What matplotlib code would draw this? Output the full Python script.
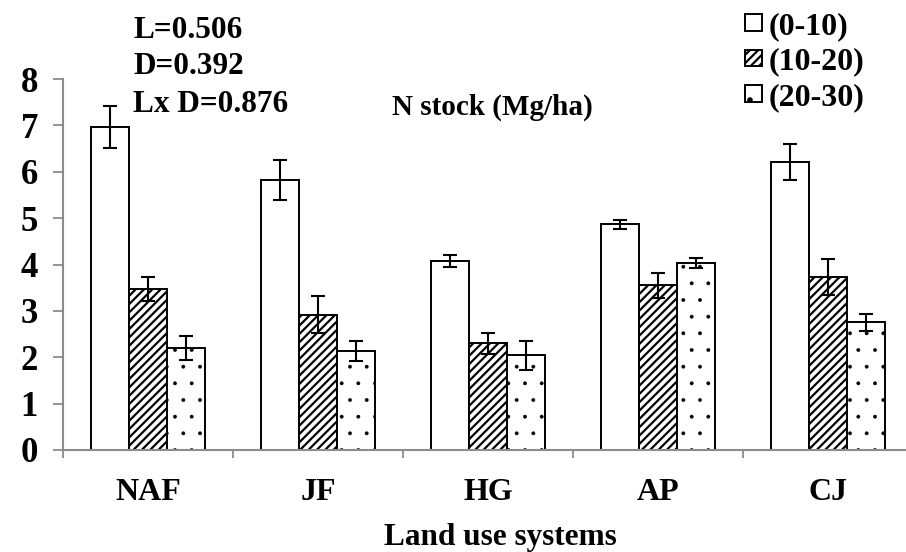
import numpy as np
import matplotlib
matplotlib.use("Agg")
import matplotlib.pyplot as plt

plt.rcParams['font.family'] = ['Liberation Serif', 'DejaVu Serif']
plt.rcParams['font.weight'] = 'bold'

# data
systems = ['NAF', 'JF', 'HG', 'AP', 'CJ']
depths = ['(0-10)', '(10-20)', '(20-30)']
n_0_10 = [6.97, 5.83, 4.08, 4.87, 6.21]
n_10_20 = [3.48, 2.92, 2.30, 3.55, 3.73]
n_20_30 = [2.19, 2.14, 2.04, 4.03, 2.75]
err_0_10 = [0.45, 0.43, 0.13, 0.10, 0.39]
err_10_20 = [0.26, 0.40, 0.23, 0.27, 0.38]
err_20_30 = [0.26, 0.22, 0.32, 0.11, 0.18]
stats_text = ['L=0.506', 'D=0.392', 'Lx D=0.876']

values = [n_0_10, n_10_20, n_20_30]
errors = [err_0_10, err_10_20, err_20_30]
hatches = ['', '////', '.']
hatch_lw = [1.0, 1.6, 0.3]

fig = plt.figure(figsize=(9.06, 5.52), dpi=100)
ax = fig.add_axes([63/906, 102/552, 850/906, 371/552])

x = np.arange(len(systems))
w = 0.222
for i in range(3):
    with plt.rc_context({'hatch.linewidth': hatch_lw[i]}):
        bars = ax.bar(x + (i - 1) * w, values[i], w, color='white', edgecolor='black',
                      linewidth=1.4, hatch=hatches[i], label=depths[i], zorder=2)
    for b in bars:
        if hasattr(b, 'set_hatch_linewidth'):
            b.set_hatch_linewidth(hatch_lw[i])
    ax.errorbar(x + (i - 1) * w, values[i], yerr=errors[i], fmt='none',
                ecolor='black', elinewidth=1.5, capsize=4.7, capthick=1.5, zorder=3)

ax.set_xlim(-0.5, 4.5)
ax.set_ylim(0, 8)
ax.set_yticks(range(9))
ax.set_xticks(x)
ax.set_xticklabels(systems)
ax.set_xticks(np.arange(-0.5, 5, 1), minor=True)

for s in ['top', 'right']:
    ax.spines[s].set_visible(False)
for s in ['left', 'bottom']:
    ax.spines[s].set_color('#8c8c8c')
    ax.spines[s].set_linewidth(1.5)

ax.tick_params(axis='y', direction='out', length=7, width=1.3, color='#8c8c8c',
               labelsize=25, pad=11)
ax.tick_params(axis='x', which='major', length=0, labelsize=23, pad=20)
ax.tick_params(axis='x', which='minor', direction='out', length=6, width=1.3,
               color='#8c8c8c')
for lab in ax.get_xticklabels() + ax.get_yticklabels():
    lab.set_fontweight('bold')

fig.text(500/906, 1 - 537/552, 'Land use systems', ha='center', va='center',
         fontsize=22.5, fontweight='bold')
fig.text(492/906, 1 - 107/552, 'N stock (Mg/ha)', ha='center', va='center',
         fontsize=21, fontweight='bold')
for k, t in enumerate(stats_text):
    fig.text(133/906, 1 - (30 + 37 * k)/552, t, ha='left', va='center',
             fontsize=22.5, fontweight='bold')

with plt.rc_context({'hatch.linewidth': 1.6}):
    ax.legend(loc='upper left', bbox_to_anchor=(745/906, 1 - 12/552),
              bbox_transform=fig.transFigure, frameon=False, fontsize=23,
              handlelength=0.53, handleheight=0.44, handletextpad=0.2,
              labelspacing=0.2, borderpad=0, borderaxespad=0)

plt.savefig('out.png', dpi=100)
